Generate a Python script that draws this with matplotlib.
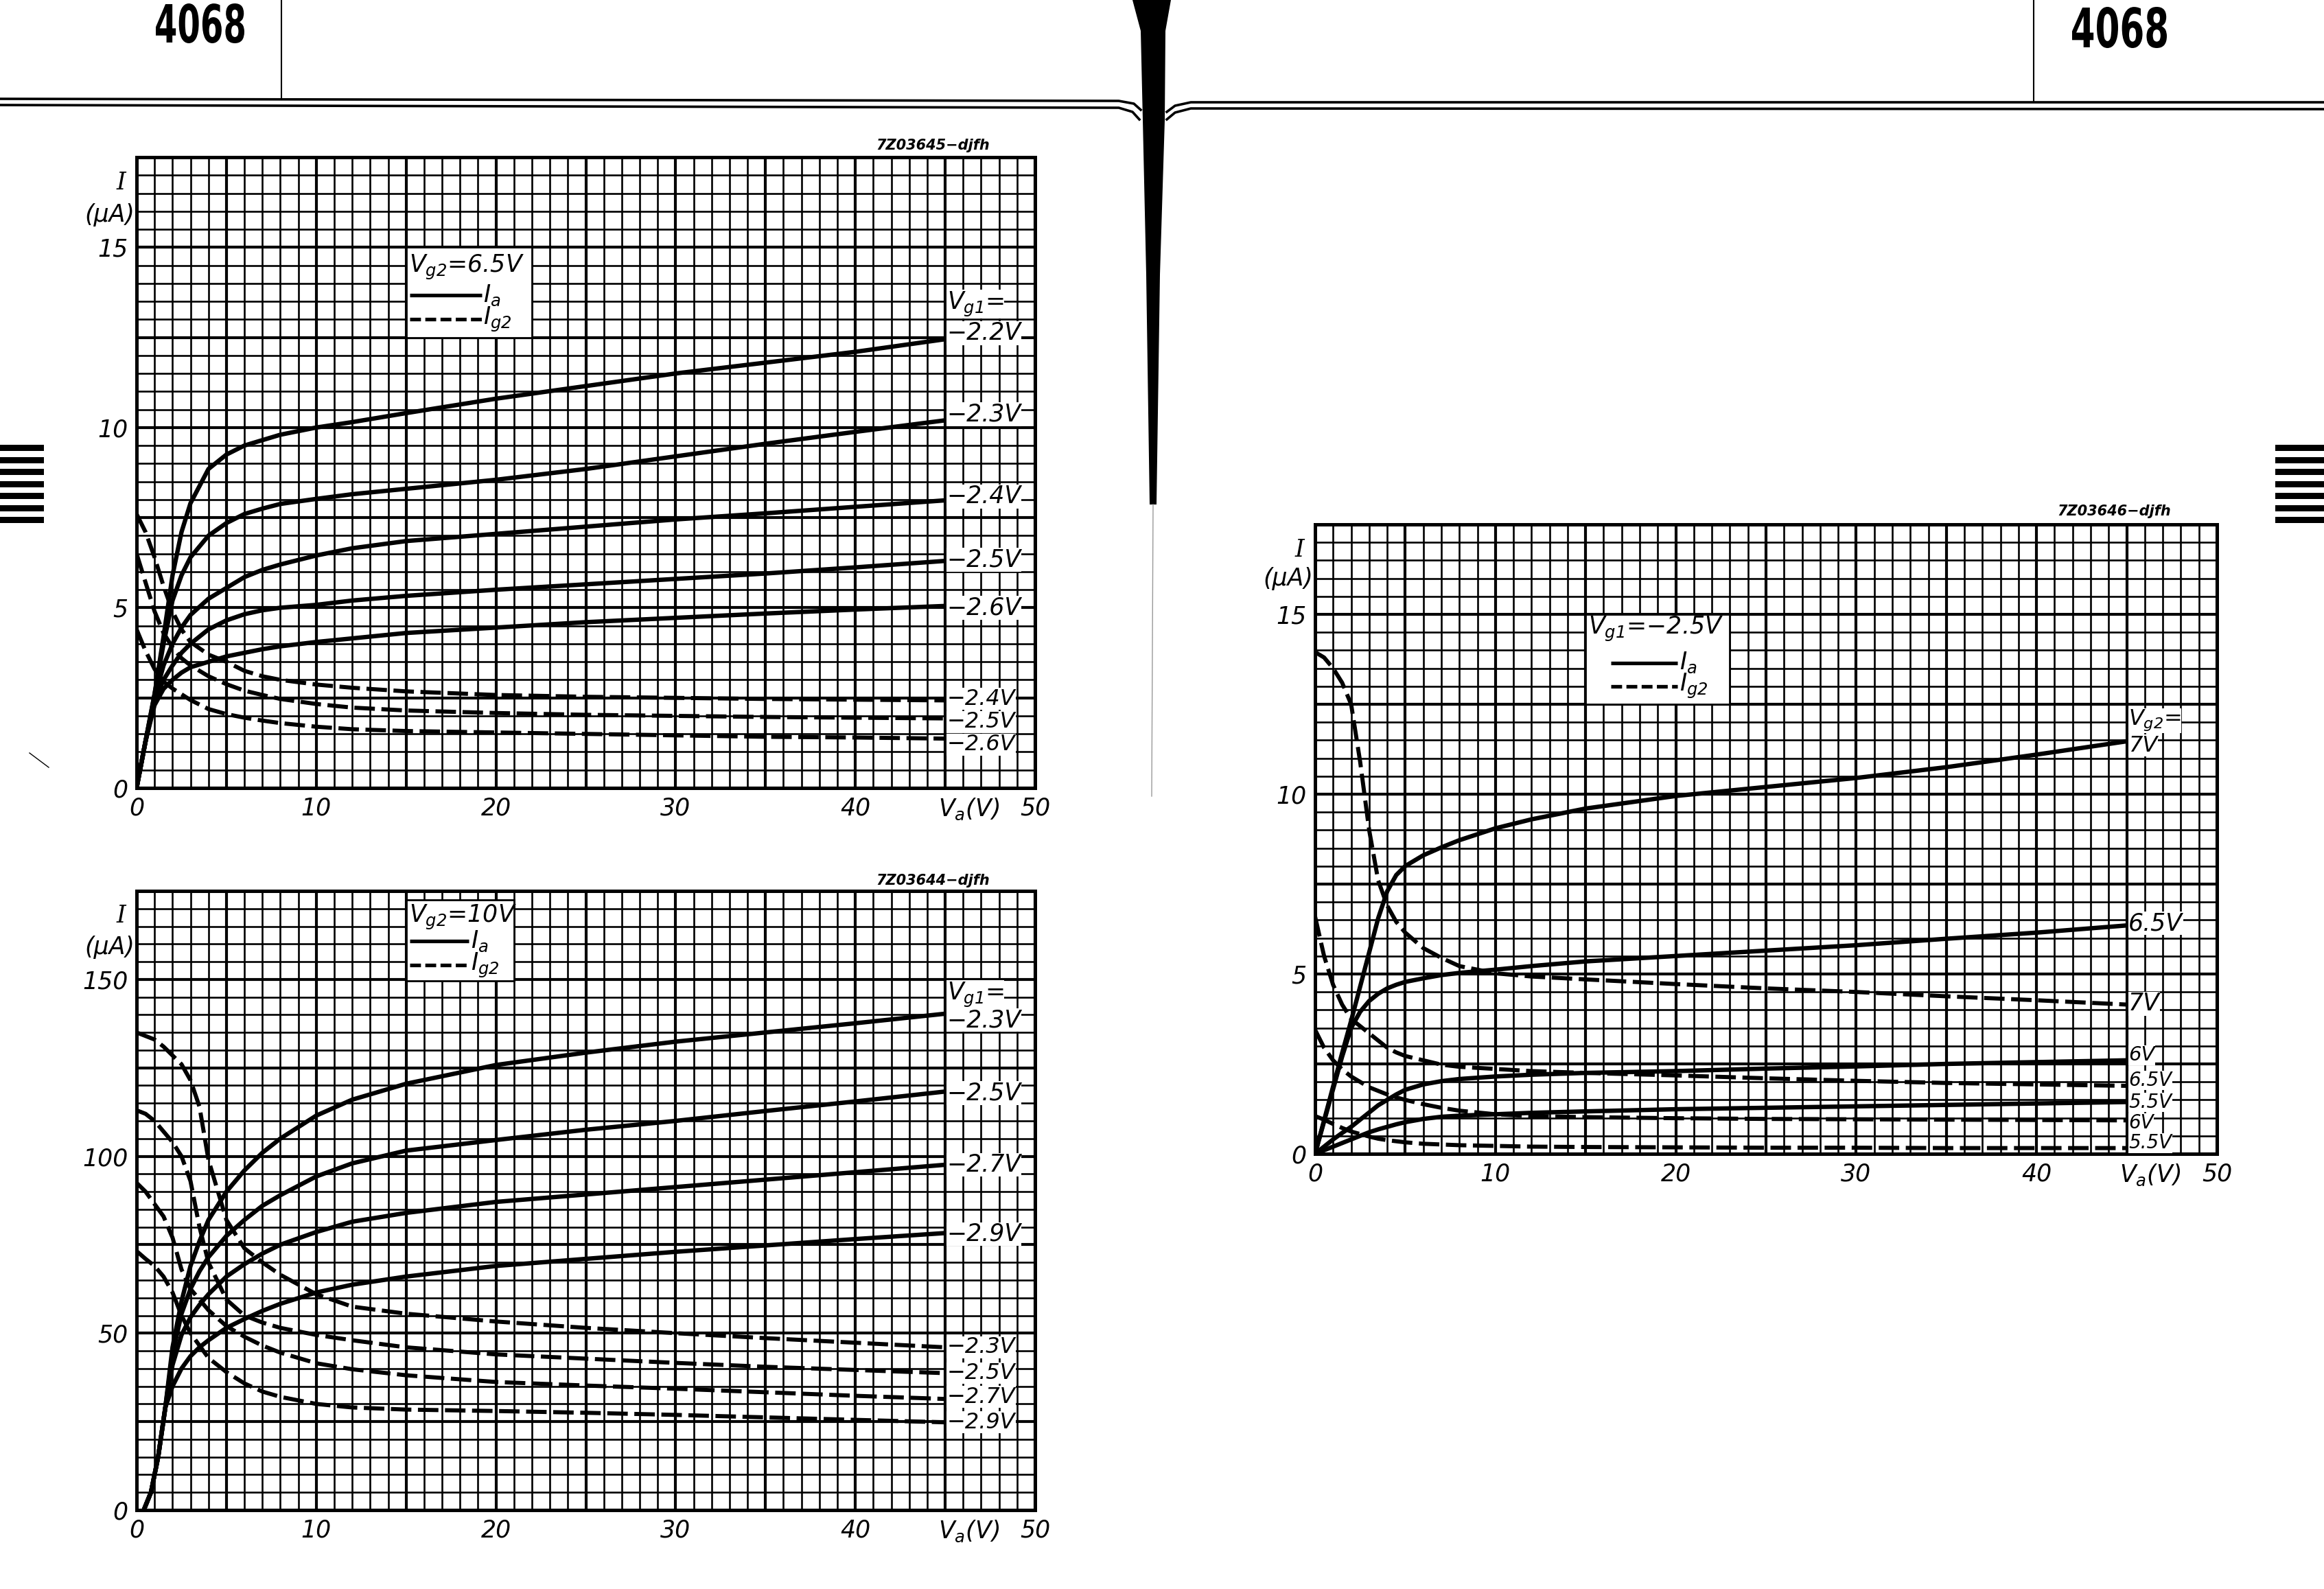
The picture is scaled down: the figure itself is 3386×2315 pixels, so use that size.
import matplotlib
matplotlib.use("Agg")
import matplotlib.pyplot as plt
import numpy as np
from matplotlib.patches import Rectangle, PathPatch, Polygon
from matplotlib.textpath import TextPath
from matplotlib.font_manager import FontProperties
from matplotlib.transforms import Affine2D

# Ecriture technique : tout en italique
plt.rcParams['font.family'] = ['DejaVu Sans']
plt.rcParams['font.style'] = 'italic'
plt.rcParams['mathtext.fontset'] = 'custom'
plt.rcParams['mathtext.rm'] = 'DejaVu Sans:italic'
plt.rcParams['mathtext.it'] = 'DejaVu Sans:italic'
plt.rcParams['mathtext.default'] = 'it'

# ---------------- Données : graphique du haut (Vg2 = 6.5 V) ----------------
va_haut = [0, 0.5, 1, 1.5, 2, 2.5, 3, 4, 5, 6, 7, 8, 10, 12, 15, 20, 25, 30, 35, 40, 45]
ia_haut_22 = [0, 1.3, 2.6, 4.2, 5.9, 7.1, 7.9, 8.85, 9.25, 9.5, 9.65, 9.8, 10.0, 10.15, 10.4, 10.8, 11.15, 11.5, 11.8, 12.1, 12.45]
ia_haut_23 = [0, 1.3, 2.6, 4.0, 5.2, 5.9, 6.4, 7.0, 7.35, 7.6, 7.75, 7.88, 8.02, 8.15, 8.3, 8.55, 8.85, 9.2, 9.55, 9.88, 10.2]
ia_haut_24 = [0, 1.3, 2.5, 3.4, 4.0, 4.45, 4.8, 5.25, 5.55, 5.85, 6.05, 6.2, 6.45, 6.65, 6.85, 7.05, 7.25, 7.45, 7.62, 7.8, 7.98]
ia_haut_25 = [0, 1.3, 2.4, 3.0, 3.4, 3.75, 4.0, 4.4, 4.65, 4.82, 4.93, 5.0, 5.08, 5.2, 5.33, 5.5, 5.65, 5.8, 5.95, 6.12, 6.3]
ia_haut_26 = [0, 1.3, 2.3, 2.75, 3.0, 3.2, 3.35, 3.5, 3.65, 3.75, 3.85, 3.93, 4.05, 4.15, 4.3, 4.45, 4.6, 4.72, 4.84, 4.95, 5.05]
ig2_haut_24 = [7.6, 7.1, 6.4, 5.6, 4.9, 4.4, 4.05, 3.7, 3.5, 3.25, 3.1, 3.0, 2.87, 2.78, 2.68, 2.58, 2.53, 2.5, 2.47, 2.45, 2.43]
ig2_haut_25 = [6.5, 5.7, 4.9, 4.3, 3.9, 3.6, 3.4, 3.1, 2.88, 2.7, 2.58, 2.47, 2.33, 2.23, 2.15, 2.08, 2.03, 2.0, 1.97, 1.95, 1.93]
ig2_haut_26 = [4.4, 3.8, 3.3, 2.95, 2.76, 2.6, 2.44, 2.19, 2.05, 1.95, 1.87, 1.8, 1.7, 1.63, 1.58, 1.54, 1.5, 1.46, 1.42, 1.4, 1.37]
etiq_haut_ia = ['−2.2V', '−2.3V', '−2.4V', '−2.5V', '−2.6V']
etiq_haut_ig2 = ['−2.4V', '−2.5V', '−2.6V']

# ---------------- Données : graphique du bas (Vg2 = 10 V) ----------------
va_bas_ia = [0.4, 0.8, 1.2, 1.6, 2, 2.5, 3, 3.5, 4, 5, 6, 7, 8, 10, 12, 15, 20, 25, 30, 35, 40, 45]
ia_bas_23 = [0, 5, 15, 29, 46, 59, 69, 76, 82, 90, 96, 101, 105, 111.5, 116, 120.5, 125.8, 129.3, 132.4, 135, 137.6, 140.3]
ia_bas_25 = [0, 5, 15, 29, 44, 55.5, 62.5, 67.5, 71.5, 77.5, 82, 86, 89, 94.3, 98, 101.6, 104.6, 107.5, 110, 112.8, 115.5, 118.3]
ia_bas_27 = [0, 5, 15, 29, 41, 49.5, 54.5, 58, 61, 66, 69.5, 72.5, 75, 78.6, 81.5, 84, 87.1, 89.2, 91.3, 93.4, 95.5, 97.6]
ia_bas_29 = [0, 5, 15, 29, 35, 40, 43.5, 46, 48, 51.5, 54, 56.3, 58.3, 61.5, 63.7, 66, 69, 71, 73, 74.8, 76.6, 78.3]
va_bas_ig2 = [0, 0.5, 1, 1.5, 2, 2.5, 3, 3.5, 4, 5, 6, 7, 8, 10, 12, 15, 20, 25, 30, 35, 40, 45]
ig2_bas_23 = [135, 134, 133, 131, 128.5, 126, 121.5, 114, 99, 82, 74, 70, 66.5, 61, 57.5, 55.5, 53.3, 51.5, 50, 48.6, 47.3, 46]
ig2_bas_25 = [113, 112, 110, 107, 104, 100, 93, 80, 70, 59.5, 55, 53, 51.5, 49.5, 48, 46, 44, 42.8, 41.6, 40.5, 39.6, 38.7]
ig2_bas_27 = [92.5, 90, 86.5, 83, 77, 68, 62.5, 59.5, 56.5, 52, 49, 46.5, 44.5, 41.5, 39.8, 38.1, 36.2, 35.2, 34.3, 33.3, 32.3, 31.4]
ig2_bas_29 = [73.2, 71, 69, 66, 61.5, 55, 50, 46.5, 43, 39, 35.8, 33.5, 32, 30, 29, 28.4, 28, 27.5, 26.9, 26.2, 25.5, 24.8]
etiq_bas = ['−2.3V', '−2.5V', '−2.7V', '−2.9V']

# ---------------- Données : graphique de droite (Vg1 = -2.5 V) ----------------
va_droite = [0, 0.5, 1, 1.5, 2, 2.5, 3, 3.5, 4, 4.5, 5, 6, 7, 8, 10, 12, 15, 20, 25, 30, 35, 40, 45]
ia_droite_70 = [0, 0.93, 1.87, 2.8, 3.7, 4.65, 5.6, 6.55, 7.3, 7.75, 8.0, 8.3, 8.52, 8.72, 9.05, 9.3, 9.6, 9.95, 10.2, 10.45, 10.75, 11.1, 11.47]
ia_droite_65 = [0, 0.9, 1.8, 2.7, 3.5, 3.95, 4.25, 4.45, 4.6, 4.7, 4.78, 4.88, 4.97, 5.03, 5.12, 5.22, 5.35, 5.5, 5.65, 5.8, 5.98, 6.15, 6.35]
ia_droite_60 = [0, 0.2, 0.4, 0.58, 0.75, 0.95, 1.15, 1.35, 1.5, 1.65, 1.78, 1.93, 2.02, 2.08, 2.15, 2.2, 2.25, 2.3, 2.37, 2.43, 2.5, 2.55, 2.6]
ia_droite_55 = [0, 0.1, 0.2, 0.3, 0.4, 0.5, 0.6, 0.68, 0.75, 0.82, 0.88, 0.97, 1.03, 1.06, 1.1, 1.14, 1.18, 1.24, 1.28, 1.32, 1.36, 1.4, 1.44]
ig2_droite_70 = [13.95, 13.8, 13.5, 13.1, 12.5, 10.9, 9.0, 7.6, 6.9, 6.45, 6.15, 5.72, 5.45, 5.22, 5.02, 4.93, 4.85, 4.72, 4.6, 4.5, 4.38, 4.27, 4.15]
ig2_droite_65 = [6.6, 5.5, 4.7, 4.15, 3.75, 3.55, 3.35, 3.15, 2.95, 2.82, 2.72, 2.6, 2.48, 2.42, 2.36, 2.3, 2.25, 2.18, 2.1, 2.03, 1.97, 1.93, 1.89]
ig2_droite_60 = [3.45, 2.95, 2.6, 2.35, 2.15, 2.0, 1.85, 1.75, 1.65, 1.57, 1.5, 1.38, 1.28, 1.2, 1.1, 1.05, 1.02, 0.99, 0.97, 0.96, 0.95, 0.94, 0.93]
ig2_droite_55 = [1.05, 0.95, 0.83, 0.72, 0.62, 0.55, 0.48, 0.42, 0.38, 0.35, 0.32, 0.28, 0.26, 0.24, 0.22, 0.2, 0.19, 0.18, 0.17, 0.17, 0.16, 0.16, 0.16]
etiq_droite = ['7V', '6.5V', '7V', '6V', '6.5V', '5.5V', '6V', '5.5V']

# ---------------- Figure ----------------
W, H = 3386, 2315
fig = plt.figure(figsize=(W / 100, H / 100), dpi=100)

# Calque de décor en pixels (en-tête, reliure, repères)
deco = fig.add_axes([0, 0, 1, 1])
deco.set_xlim(0, W)
deco.set_ylim(H, 0)
deco.axis('off')


def boite(x0, y0, x1, y1):
    return [x0 / W, 1 - y1 / H, (x1 - x0) / W, (y1 - y0) / H]


LW_IA = 4.6
TIRETS = (0, (5, 1.6))
TAILLE = 25


def panneau(rect, y_max, pas_y, yticks, y_i, y_ua):
    ax = fig.add_axes(rect)
    ax.set_xlim(0, 50)
    ax.set_ylim(0, y_max)
    # Quadrillage millimétré : fin chaque pas, épais toutes les 5 cases
    for x in range(51):
        ax.axvline(x, color='black', lw=3.0 if x % 5 == 0 else 1.9, zorder=1)
    n = int(round(y_max / pas_y))
    for k in range(n + 1):
        ax.axhline(k * pas_y, color='black', lw=3.0 if k % 5 == 0 else 1.9, zorder=1)
    for s in ax.spines.values():
        s.set_linewidth(3.6)
    ax.set_xticks([0, 10, 20, 30, 40, 50])
    ax.set_yticks(yticks)
    ax.tick_params(length=0, labelsize=TAILLE, pad=9)
    ax.annotate(r'$V_a(V)$', xy=(44.6, 0), xycoords=('data', 'axes fraction'),
                xytext=(0, -9), textcoords='offset points', ha='left', va='top', fontsize=TAILLE)
    ax.text(-0.6, y_i, 'I', ha='right', va='center', fontsize=TAILLE, clip_on=False,
            family='DejaVu Serif')
    ax.text(-0.1, y_ua, '(μA)', ha='right', va='center', fontsize=TAILLE, clip_on=False)
    return ax


def legende(ax, x0, x1, y0, y1, titre, y_titre, y_ia, y_ig2, xl0, xl1):
    ax.add_patch(Rectangle((x0, y0), x1 - x0, y1 - y0, fc='white', ec='black', lw=2, zorder=4))
    ax.text(x0 + 0.15, y_titre, titre, va='center', ha='left', fontsize=TAILLE, zorder=6)
    ax.plot([xl0, xl1], [y_ia, y_ia], color='black', lw=3.8, zorder=5, solid_capstyle='butt')
    ax.plot([xl0, xl1], [y_ig2, y_ig2], color='black', lw=3.8, ls=(0, (3, 1.2)), zorder=5)
    ax.text(xl1 + 0.1, y_ia, r'$I_a$', va='center', ha='left', fontsize=TAILLE, zorder=6)
    ax.text(xl1 + 0.1, y_ig2, r'$I_{g2}$', va='center', ha='left', fontsize=TAILLE, zorder=6)


def etiquette(ax, y, texte, taille=TAILLE):
    ax.text(45.1, y, texte, ha='left', va='center', fontsize=taille, zorder=6,
            bbox=dict(fc='white', ec='none', pad=0.3))


def courbe(ax, x, y, tirets=False):
    if tirets:
        ax.plot(x, y, color='black', lw=4.3, ls=TIRETS, zorder=3)
    else:
        ax.plot(x, y, color='black', lw=LW_IA, zorder=3, solid_joinstyle='round')


# ---- Graphique du haut ----
ax1 = panneau(boite(199, 229, 1508, 1148), 17.5, 0.5, [0, 5, 10, 15], 16.8, 15.9)
for ia in [ia_haut_22, ia_haut_23, ia_haut_24, ia_haut_25, ia_haut_26]:
    courbe(ax1, va_haut, ia)
for ig2 in [ig2_haut_24, ig2_haut_25, ig2_haut_26]:
    courbe(ax1, va_haut, ig2, tirets=True)
legende(ax1, 15, 22, 12.5, 15, r'$V_{g2}$=6.5V', 14.45, 13.67, 13.0, 15.2, 19.2)
etiquette(ax1, 13.42, r'$V_{g1}$=')
for y, t in zip([12.62, 10.37, 8.09, 6.33, 5.0], etiq_haut_ia):
    etiquette(ax1, y, t)
for y, t in zip([2.47, 1.83, 1.2], etiq_haut_ig2):
    etiquette(ax1, y, t, 23)

# ---- Graphique du bas ----
ax2 = panneau(boite(199, 1298, 1508, 2200), 175, 5, [0, 50, 100, 150], 168, 159)
for ia in [ia_bas_23, ia_bas_25, ia_bas_27, ia_bas_29]:
    courbe(ax2, va_bas_ia, ia)
for ig2 in [ig2_bas_23, ig2_bas_25, ig2_bas_27, ig2_bas_29]:
    courbe(ax2, va_bas_ig2, ig2, tirets=True)
legende(ax2, 15, 21, 149.5, 172.5, r'$V_{g2}$=10V', 167.5, 160.8, 154, 15.2, 18.5)
etiquette(ax2, 145.7, r'$V_{g1}$=')
for y, t in zip([138.5, 117.9, 97.6, 78], etiq_bas):
    etiquette(ax2, y, t)
for y, t in zip([46, 38.7, 32, 24.8], etiq_bas):
    etiquette(ax2, y, t, 23)

# ---- Graphique de droite ----
ax3 = panneau(boite(1916, 764, 3230, 1681), 17.5, 0.5, [0, 5, 10, 15], 16.8, 16.0)
for ia in [ia_droite_70, ia_droite_65, ia_droite_60, ia_droite_55]:
    courbe(ax3, va_droite, ia)
for ig2 in [ig2_droite_70, ig2_droite_65, ig2_droite_60, ig2_droite_55]:
    courbe(ax3, va_droite, ig2, tirets=True)
legende(ax3, 15, 23, 12.5, 15, r'$V_{g1}$=−2.5V', 14.6, 13.65, 13.0, 16.4, 20.1)
etiquette(ax3, 12.05, r'$V_{g2}$=', 23)
pos_droite = [11.35, 6.41, 4.17, 2.74, 2.04, 1.43, 0.85, 0.3]
tailles_droite = [23, 25, 25, 21, 20, 20, 20, 20]
for y, t, s in zip(pos_droite, etiq_droite, tailles_droite):
    etiquette(ax3, y, t, s)

# Références des dessins
fs_ref = dict(fontsize=15, fontweight='bold', ha='right', va='center')
deco.text(1442, 212, '7Z03645−djfh', **fs_ref)
deco.text(1442, 1283, '7Z03644−djfh', **fs_ref)
deco.text(3163, 745, '7Z03646−djfh', **fs_ref)

# ---------------- En-tête et reliure ----------------
fp = FontProperties(family='DejaVu Sans', weight='bold', style='normal')


def numero(x0, y0, x1, y1):
    tp = TextPath((0, 0), '4068', size=100, prop=fp)
    bb = tp.get_extents()
    t = (Affine2D().translate(-bb.x0, -bb.y0)
         .scale((x1 - x0) / bb.width, -(y1 - y0) / bb.height)
         .translate(x0, y1))
    deco.add_patch(PathPatch(t.transform_path(tp), fc='black', ec='none'))


numero(227, 5, 356, 63)
numero(3019, 10, 3157, 70)

deco.plot([410, 410], [0, 145], color='black', lw=1.5)
deco.plot([2963, 2963], [0, 149], color='black', lw=1.5)

# doubles filets de l'en-tête, recourbés vers la reliure
deco.plot([0, 1630, 1652, 1662], [144, 147, 151, 160], color='black', lw=2.6)
deco.plot([0, 1630, 1650, 1660], [153, 157, 163, 174], color='black', lw=2.6)
deco.plot([1700, 1712, 1735, 3386], [163, 154, 149, 149], color='black', lw=2.6)
deco.plot([1700, 1712, 1735, 3386], [174, 164, 158, 159], color='black', lw=2.6)

# ombre de la reliure
deco.add_patch(Polygon([(1650, 0), (1706, 0), (1698, 45), (1697, 175), (1690, 400),
                        (1685, 735), (1675, 735), (1670, 400), (1665, 175), (1662, 45)],
                       closed=True, fc='black', ec='none'))
deco.plot([1680, 1678], [735, 1160], color='0.6', lw=1)

# repères de bord de page
for y in [648, 666, 683, 701, 718, 736, 753]:
    deco.add_patch(Rectangle((0, y), 64, 9, fc='black', ec='none'))
    deco.add_patch(Rectangle((3315, y), 71, 9, fc='black', ec='none'))
deco.plot([43, 71], [1097, 1118], color='black', lw=1)

fig.savefig('out.png', dpi=100)
